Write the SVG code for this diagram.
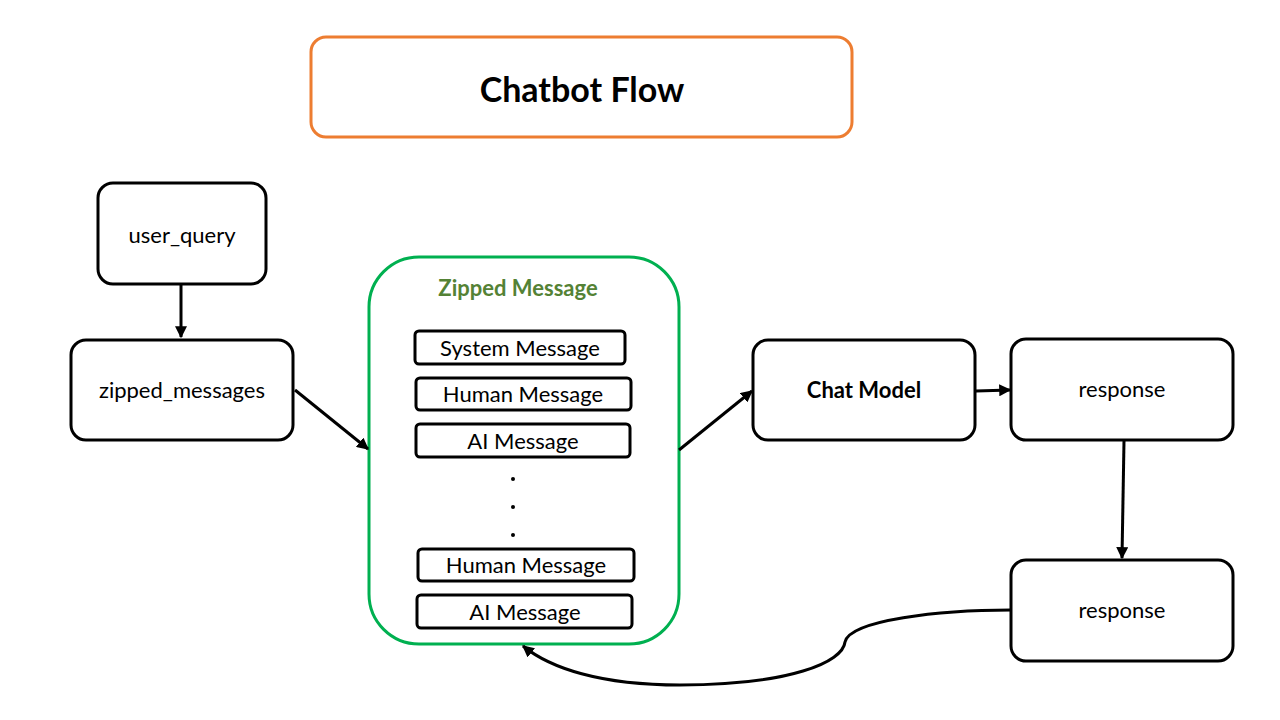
<svg xmlns="http://www.w3.org/2000/svg" width="1280" height="720" viewBox="0 0 1280 720">
<defs>
<style>
.node{fill:#fff;stroke:#000;stroke-width:3}
.msg{fill:#fff;stroke:#000;stroke-width:3}
.t{font-family:Lato,"Open Sans",sans-serif;font-size:22px;fill:#000;text-anchor:middle;dominant-baseline:central}
.b{font-weight:bold}
.edge{fill:none;stroke:#000;stroke-width:3}
</style>
<marker id="ah" viewBox="0 0 10 10" refX="9" refY="5" markerWidth="4" markerHeight="4" orient="auto" markerUnits="strokeWidth">
<path d="M0,0 L10,5 L0,10 z" fill="#000"/>
</marker>
</defs>
<rect width="1280" height="720" fill="#fff"/>
<g id="title">
<rect x="311" y="37" width="541" height="100" rx="15" fill="#fff" stroke="#ED7D31" stroke-width="3"/>
<text class="t b" x="582" y="88" style="font-size:34px">Chatbot Flow</text>
</g>
<g id="user_query">
<rect class="node" x="98" y="183" width="168" height="101" rx="15"/>
<text class="t" x="182" y="234">user_query</text>
</g>
<g id="zipped_messages">
<rect class="node" x="71" y="340" width="222" height="100" rx="15"/>
<text class="t" x="182" y="389">zipped_messages</text>
</g>
<g id="zipped_message">
<rect x="369" y="257" width="310" height="387" rx="50" fill="#fff" stroke="#00B050" stroke-width="3"/>
<text class="t b" x="518" y="287" style="fill:#548235">Zipped Message</text>
<rect class="msg" x="415" y="331" width="210" height="33" rx="4"/>
<text class="t" x="520" y="347">System Message</text>
<rect class="msg" x="416" y="378" width="215" height="32" rx="4"/>
<text class="t" x="523" y="393">Human Message</text>
<rect class="msg" x="416" y="424" width="214" height="33" rx="4"/>
<text class="t" x="523" y="440">AI Message</text>
<circle cx="513" cy="479" r="2" fill="#000"/>
<circle cx="513" cy="507" r="2" fill="#000"/>
<circle cx="513" cy="535" r="2" fill="#000"/>
<rect class="msg" x="418" y="549" width="216" height="32" rx="4"/>
<text class="t" x="526" y="564">Human Message</text>
<rect class="msg" x="417" y="595" width="215" height="33" rx="4"/>
<text class="t" x="525" y="611">AI Message</text>
</g>
<g id="chat_model">
<rect class="node" x="753" y="340" width="222" height="100" rx="15"/>
<text class="t b" x="864" y="389">Chat Model</text>
</g>
<g id="response1">
<rect class="node" x="1011" y="339" width="222" height="101" rx="15"/>
<text class="t" x="1122" y="388">response</text>
</g>
<g id="response2">
<rect class="node" x="1011" y="560" width="222" height="101" rx="15"/>
<text class="t" x="1122" y="609">response</text>
</g>
<g id="connectors">
<path class="edge" d="M181,285 L181,337" marker-end="url(#ah)"/>
<path class="edge" d="M295,390 L368,449" marker-end="url(#ah)"/>
<path class="edge" d="M679,450 L752,391" marker-end="url(#ah)"/>
<path class="edge" d="M976,391 L1010,390" marker-end="url(#ah)"/>
<path class="edge" d="M1124,441 L1122,558" marker-end="url(#ah)"/>
<path class="edge" d="M1011,610 C940,610 850,620 845,642 C843,662 790,685 680,685 C600,685 550,668 523,646" marker-end="url(#ah)"/>
</g>
</svg>
